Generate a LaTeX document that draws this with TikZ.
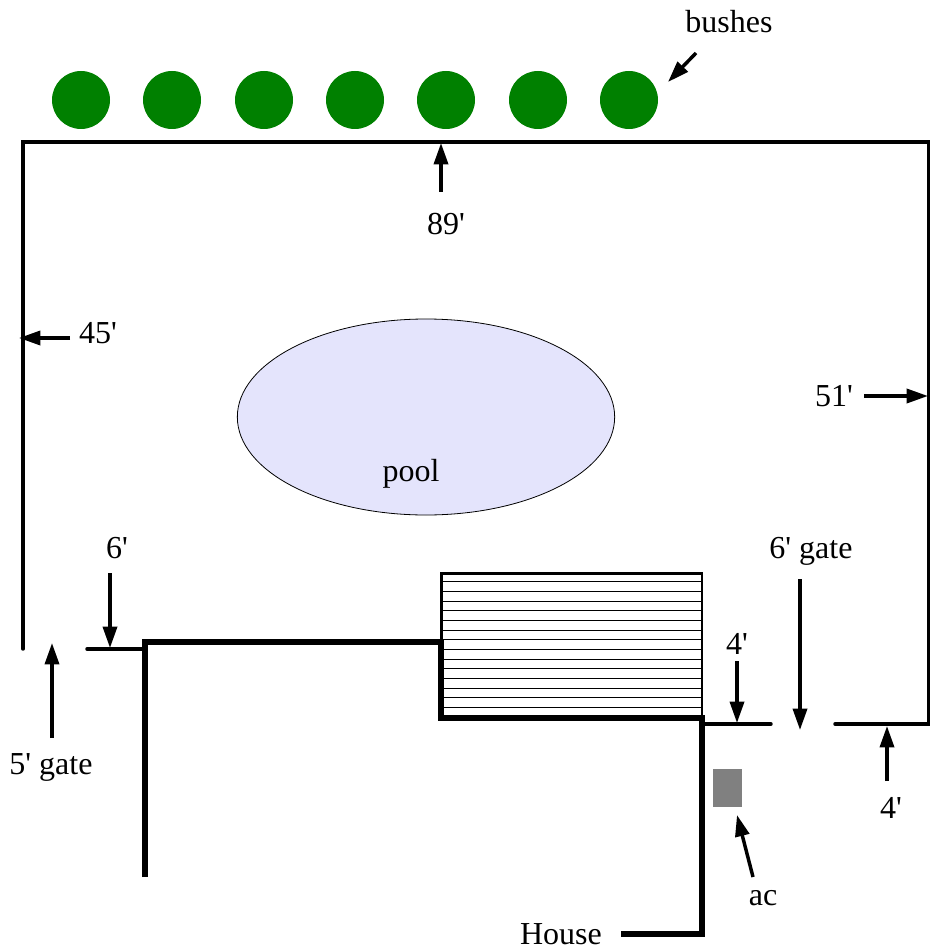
\documentclass[tikz,border=0pt]{standalone}
\usepackage{fontspec}
\setmainfont{Liberation Serif}
\usetikzlibrary{arrows.meta, shapes.geometric}
\definecolor{poolblue}{RGB}{228,228,252}
\definecolor{bushgreen}{RGB}{0,128,0}
\newcommand{\ft}{\textquotesingle}
\tikzset{
    fence/.style={line width=2.6pt, line cap=round},
    wall/.style={line width=4.2pt, line join=miter},
    deckline/.style={line width=0.7pt},
    dimarrow/.style={line width=2.6pt, -{Triangle[length=16pt,width=10.5pt]}},
    bush/.style={circle, fill=bushgreen, minimum size=43.5pt, inner sep=0pt},
    lbl/.style={font=\fontsize{24}{26}\selectfont, inner sep=0pt}
}

\begin{document}
\begin{tikzpicture}[x=0.75pt, y=-0.75pt]
    \useasboundingbox (0, 0) rectangle (930, 952);

    \foreach \i/\xpos in {1/81, 2/172, 3/264, 4/355, 5/446, 6/538, 7/629} {
        \node[bush] (bush\i) at (\xpos, 100) {};
    }

    \coordinate (fenceA) at (23, 649);
    \coordinate (fenceB) at (23, 142);
    \coordinate (fenceC) at (929, 142);
    \coordinate (fenceD) at (929, 724);
    \coordinate (fenceE) at (835, 724);
    \coordinate (fenceF) at (771, 724);
    \coordinate (fenceG) at (702, 724);
    \coordinate (fenceH) at (87, 649);
    \coordinate (fenceI) at (145, 649);
    \draw[fence, line join=miter] (fenceA) -- (fenceB) -- (fenceC) -- (fenceD) -- (fenceE);
    \draw[fence] (fenceF) -- (fenceG);
    \draw[fence] (fenceH) -- (fenceI);

    \node[ellipse, draw, fill=poolblue, line width=0.6pt, minimum width=283pt, minimum height=147pt, inner sep=0pt] (pool) at (426, 417) {};
    \node[lbl] (poollabel) at (411, 474) {pool};

    \node[draw, line width=2pt, minimum width=195.5pt, minimum height=108.5pt, inner sep=0pt] (deck) at (571.5, 645.5) {};
    \foreach \i in {1,...,14} {
        \coordinate (deckL\i) at (441, 572.2 + 9.65*\i);
        \coordinate (deckR\i) at (702, 572.2 + 9.65*\i);
        \draw[deckline] (deckL\i) -- (deckR\i);
    }

    \coordinate (wallA) at (145, 877);
    \coordinate (wallB) at (145, 642);
    \coordinate (wallC) at (441, 642);
    \coordinate (wallD) at (441, 718);
    \coordinate (wallE) at (702, 718);
    \coordinate (wallF) at (702, 934);
    \coordinate (wallG) at (621, 934);
    \draw[wall] (wallA) -- (wallB) -- (wallC) -- (wallD) -- (wallE) -- (wallF) -- (wallG);

    \node[fill=gray, minimum width=22pt, minimum height=28.5pt, inner sep=0pt] (ac) at (727.5, 788) {};

    \node[lbl] (bushes) at (729, 22) {bushes};
    \node[lbl] (top) at (446, 224) {89\ft};
    \node[lbl] (left) at (98, 333) {45\ft};
    \node[lbl] (right) at (834, 396) {51\ft};
    \node[lbl] (stub) at (117, 548) {6\ft};
    \node[lbl] (gatefive) at (51, 767) {5\ft{} gate};
    \node[lbl] (gatesix) at (811, 551) {6\ft{} gate};
    \node[lbl] (returnL) at (737, 644) {4\ft};
    \node[lbl] (returnR) at (891, 808) {4\ft};
    \node[lbl] (aclabel) at (763, 898) {ac};
    \node[lbl] (house) at (561, 934) {House};

    \coordinate (bushesA) at (696, 53);
    \coordinate (bushesB) at (668, 82);
    \coordinate (topA) at (441, 192);
    \coordinate (topB) at (441, 143);
    \coordinate (leftA) at (70, 338);
    \coordinate (leftB) at (19, 338);
    \coordinate (rightA) at (864, 396);
    \coordinate (rightB) at (928, 396);
    \coordinate (stubA) at (110, 573);
    \coordinate (stubB) at (110, 648);
    \coordinate (gatefiveA) at (52, 738);
    \coordinate (gatefiveB) at (52, 643);
    \coordinate (gatesixA) at (800, 579);
    \coordinate (gatesixB) at (800, 730);
    \coordinate (returnLA) at (737, 661);
    \coordinate (returnLB) at (737, 723);
    \coordinate (returnRA) at (887, 781);
    \coordinate (returnRB) at (887, 726);
    \coordinate (acA) at (753, 877);
    \coordinate (acB) at (737, 815);
    \foreach \n in {bushes, top, left, right, stub, gatefive, gatesix, returnL, returnR, ac} {
        \draw[dimarrow] (\n A) -- (\n B);
    }
\end{tikzpicture}
\end{document}
